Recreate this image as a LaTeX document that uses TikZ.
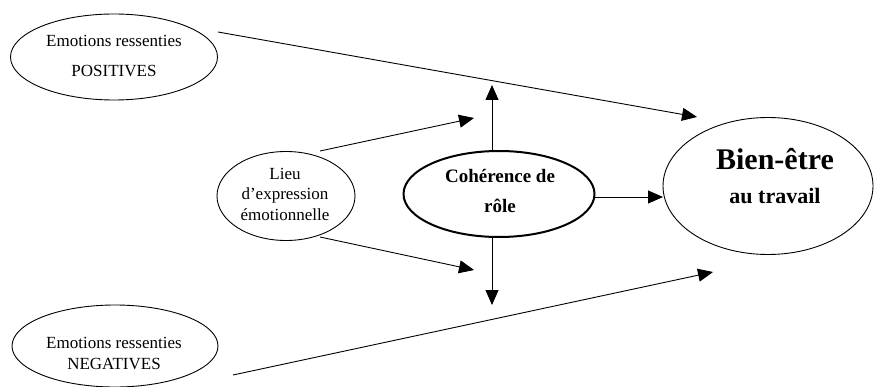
\documentclass[tikz,border=0pt]{standalone}
\usepackage{fontspec}
\setmainfont{Liberation Serif}
\usetikzlibrary{shapes.geometric,arrows.meta}
\begin{document}
\begin{tikzpicture}[x=1pt,y=-1pt,
  oval/.style={ellipse,draw,line width=0.9pt,inner sep=0pt},
  thickoval/.style={ellipse,draw,line width=2pt,inner sep=0pt},
  txt/.style={anchor=base,inner sep=0pt,font=\fontsize{17}{20}\selectfont},
  btxt/.style={anchor=base,inner sep=0pt,font=\bfseries\fontsize{19}{20}\selectfont},
  conn/.style={line width=0.9pt,-{Triangle[length=15pt,width=13pt]}}]
\useasboundingbox (0,0) rectangle (874,387);
% ellipses
\node[oval,minimum width=207pt,minimum height=86pt] (pos) at (114,57) {};
\node[oval,minimum width=206pt,minimum height=82pt] (neg) at (115,346) {};
\node[oval,minimum width=138pt,minimum height=89pt] (lieu) at (286,196) {};
\node[thickoval,minimum width=191pt,minimum height=86pt] (coh) at (499,194) {};
\node[oval,minimum width=210pt,minimum height=137pt] (bien) at (768,186) {};
% texts
\node[txt] (pos1) at (114,47) {Emotions ressenties};
\node[txt] (pos2) at (114,77) {POSITIVES};
\node[txt] (neg1) at (114,348) {Emotions ressenties};
\node[txt] (neg2) at (114,369) {NEGATIVES};
\node[txt] (lieu1) at (285,180) {Lieu};
\node[txt] (lieu2) at (285,200) {d’expression};
\node[txt] (lieu3) at (285,220) {émotionnelle};
\node[btxt] (coh1) at (500,183) {Cohérence de};
\node[btxt] (coh2) at (500,212) {rôle};
\node[anchor=base,inner sep=0pt,font=\bfseries\fontsize{30}{32}\selectfont] (bien1) at (775,170) {Bien-être};
\node[anchor=base,inner sep=0pt,font=\bfseries\fontsize{22}{24}\selectfont] (bien2) at (775,204) {au travail};
% free ends
\coordinate (e1s) at (218,32);
\coordinate (e1e) at (697,117);
\coordinate (e2s) at (233,375);
\coordinate (e2e) at (713,272);
\coordinate (l1s) at (320,151);
\coordinate (l1e) at (474,118);
\coordinate (l2s) at (320,237);
\coordinate (l2e) at (474,270);
\coordinate (ct) at (492,151);
\coordinate (cte) at (492,85);
\coordinate (cb) at (492,237);
\coordinate (cbe) at (492,305);
\coordinate (cr) at (595,197);
\coordinate (bl) at (663,197);
% connectors
\draw[conn] (e1s) -- (e1e);
\draw[conn] (e2s) -- (e2e);
\draw[conn] (l1s) -- (l1e);
\draw[conn] (l2s) -- (l2e);
\draw[conn] (ct) -- (cte);
\draw[conn] (cb) -- (cbe);
\draw[conn] (cr) -- (bl);
\end{tikzpicture}
\end{document}
